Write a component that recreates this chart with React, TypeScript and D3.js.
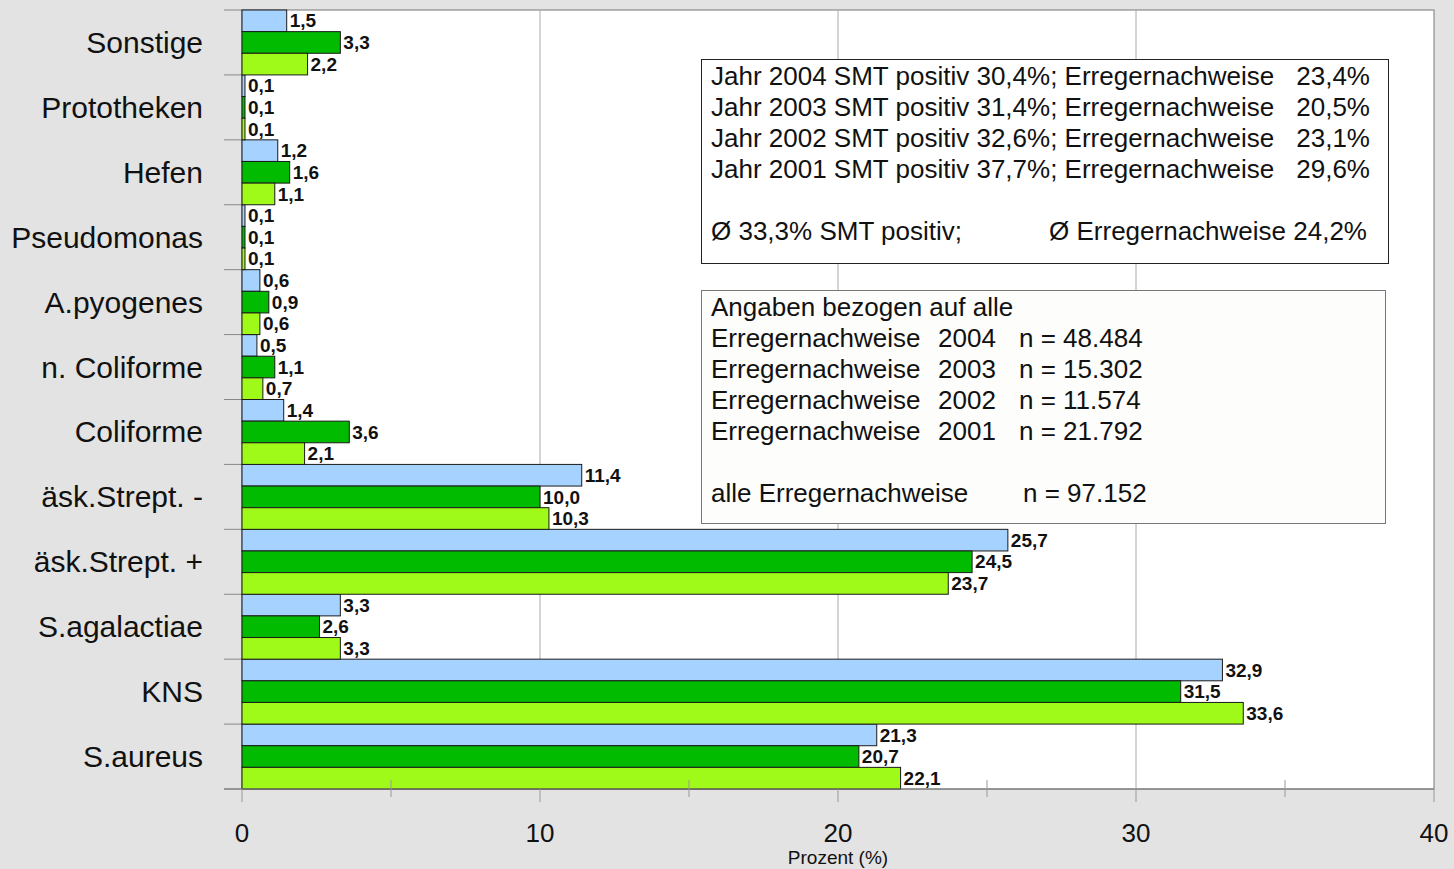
import React, { useEffect, useRef } from 'react';
import * as d3 from 'd3';

const WIDTH = 1454;
const HEIGHT = 869;

const MARGIN = { top: 10, right: 20, bottom: 80, left: 242 };

const categories = [
  'Sonstige', 'Prototheken', 'Hefen', 'Pseudomonas', 'A.pyogenes', 'n. Coliforme',
  'Coliforme', 'äsk.Strept. -', 'äsk.Strept. +', 'S.agalactiae', 'KNS', 'S.aureus',
];

// three bars per category, top to bottom
const seriesA = [1.5, 0.1, 1.2, 0.1, 0.6, 0.5, 1.4, 11.4, 25.7, 3.3, 32.9, 21.3];
const seriesB = [3.3, 0.1, 1.6, 0.1, 0.9, 1.1, 3.6, 10.0, 24.5, 2.6, 31.5, 20.7];
const seriesC = [2.2, 0.1, 1.1, 0.1, 0.6, 0.7, 2.1, 10.3, 23.7, 3.3, 33.6, 22.1];

const seriesColors = ['#a6d2ff', '#00bb00', '#a0fa19'];

const xTicks = [0, 10, 20, 30, 40];
const xMinorTicks = [5, 15, 25, 35];

const box1Lines = [
  ['Jahr 2004 SMT positiv 30,4%; Erregernachweise', '23,4%'],
  ['Jahr 2003 SMT positiv 31,4%; Erregernachweise', '20,5%'],
  ['Jahr 2002 SMT positiv 32,6%; Erregernachweise', '23,1%'],
  ['Jahr 2001 SMT positiv 37,7%; Erregernachweise', '29,6%'],
];
const box1Mean = ['Ø 33,3% SMT positiv;', 'Ø Erregernachweise 24,2%'];

const box2Title = 'Angaben bezogen auf alle';
const box2Years = ['2004', '2003', '2002', '2001'];
const box2Counts = ['n = 48.484', 'n = 15.302', 'n = 11.574', 'n = 21.792'];
const box2Total = ['alle Erregernachweise', 'n = 97.152'];

const FONT = '"Liberation Sans", Arial, sans-serif';
const BOX_FS = 26;

export default function App() {
  const ref = useRef<SVGSVGElement>(null);

  useEffect(() => {
    const svg = d3.select(ref.current);
    svg.selectAll('*').remove();

    const x = d3.scaleLinear()
      .domain([0, 40])
      .range([MARGIN.left, WIDTH - MARGIN.right]);

    const y = d3.scaleBand()
      .domain(categories)
      .range([MARGIN.top, HEIGHT - MARGIN.bottom])
      .padding(0);

    const inner = d3.scaleBand<number>()
      .domain([0, 1, 2])
      .range([0, y.bandwidth()])
      .padding(0);

    svg.append('rect')
      .attr('width', WIDTH).attr('height', HEIGHT)
      .attr('fill', '#e3e3e3');

    // plot area
    svg.append('rect')
      .attr('x', x(0)).attr('y', MARGIN.top)
      .attr('width', x(40) - x(0)).attr('height', HEIGHT - MARGIN.bottom - MARGIN.top)
      .attr('fill', '#fff')
      .attr('stroke', '#777').attr('stroke-width', 1);

    // grid
    svg.append('g').selectAll('line')
      .data([10, 20, 30])
      .enter().append('line')
      .attr('x1', d => x(d)).attr('x2', d => x(d))
      .attr('y1', MARGIN.top).attr('y2', HEIGHT - MARGIN.bottom)
      .attr('stroke', '#aaa').attr('stroke-width', 1);

    // category separator ticks
    const bounds = categories.map(c => y(c) as number).concat([HEIGHT - MARGIN.bottom]);
    svg.append('g').selectAll('line')
      .data(bounds)
      .enter().append('line')
      .attr('x1', x(0) - 18).attr('x2', x(0))
      .attr('y1', d => d).attr('y2', d => d)
      .attr('stroke', '#888').attr('stroke-width', 1);

    // bars
    const series = [seriesA, seriesB, seriesC];
    series.forEach((vals, si) => {
      const g = svg.append('g');
      g.selectAll('rect')
        .data(vals)
        .enter().append('rect')
        .attr('x', x(0))
        .attr('y', (d, i) => (y(categories[i]) as number) + (inner(si) as number))
        .attr('width', d => x(d) - x(0))
        .attr('height', inner.bandwidth())
        .attr('fill', seriesColors[si])
        .attr('stroke', '#1a1a1a').attr('stroke-width', 1);

      g.selectAll('text')
        .data(vals)
        .enter().append('text')
        .attr('x', d => x(d) + 3)
        .attr('y', (d, i) => (y(categories[i]) as number) + (inner(si) as number) + inner.bandwidth() / 2)
        .attr('dy', '0.35em')
        .attr('font-family', FONT)
        .attr('font-weight', 'bold')
        .attr('font-size', 19)
        .attr('fill', '#111')
        .text(d => d3.format('.1f')(d).replace('.', ','));
    });

    // category labels
    svg.append('g').selectAll('text')
      .data(categories)
      .enter().append('text')
      .attr('x', 203)
      .attr('y', d => (y(d) as number) + y.bandwidth() / 2)
      .attr('dy', '0.35em')
      .attr('text-anchor', 'end')
      .attr('font-family', FONT)
      .attr('font-size', 30)
      .attr('fill', '#111')
      .text(d => d);

    // x axis
    const axisY = HEIGHT - MARGIN.bottom;
    svg.append('line')
      .attr('x1', x(0) - 18).attr('x2', x(40))
      .attr('y1', axisY).attr('y2', axisY)
      .attr('stroke', '#777');
    svg.append('g').selectAll('line')
      .data(xTicks)
      .enter().append('line')
      .attr('x1', d => x(d)).attr('x2', d => x(d))
      .attr('y1', axisY).attr('y2', axisY + 13)
      .attr('stroke', '#999');
    svg.append('g').selectAll('line')
      .data(xMinorTicks)
      .enter().append('line')
      .attr('x1', d => x(d)).attr('x2', d => x(d))
      .attr('y1', axisY - 9).attr('y2', axisY + 8)
      .attr('stroke', '#999');
    svg.append('g').selectAll('text')
      .data(xTicks)
      .enter().append('text')
      .attr('x', d => x(d))
      .attr('y', 842)
      .attr('text-anchor', 'middle')
      .attr('font-family', FONT)
      .attr('font-size', 26)
      .attr('fill', '#111')
      .text(d => d);
    svg.append('text')
      .attr('x', x(20)).attr('y', 864)
      .attr('text-anchor', 'middle')
      .attr('font-family', FONT)
      .attr('font-size', 19)
      .attr('fill', '#111')
      .text('Prozent (%)');

    const boxText = (g: any, tx: number, ty: number, s: string, anchor = 'start') =>
      g.append('text')
        .attr('x', tx).attr('y', ty)
        .attr('text-anchor', anchor)
        .attr('font-family', FONT).attr('font-size', BOX_FS).attr('fill', '#111')
        .text(s);

    // info box 1
    const b1 = svg.append('g');
    b1.append('rect')
      .attr('x', 701.5).attr('y', 59.5).attr('width', 687).attr('height', 204)
      .attr('fill', '#fff').attr('stroke', '#222');
    box1Lines.forEach((l, i) => {
      boxText(b1, 711, 85 + i * 31, l[0]);
      boxText(b1, 1370, 85 + i * 31, l[1], 'end');
    });
    boxText(b1, 711, 240, box1Mean[0]);
    boxText(b1, 1367, 240, box1Mean[1], 'end');

    // info box 2
    const b2 = svg.append('g');
    b2.append('rect')
      .attr('x', 701.5).attr('y', 290.5).attr('width', 684).attr('height', 233)
      .attr('fill', '#fdfdfb').attr('stroke', '#777');
    boxText(b2, 711, 316, box2Title);
    box2Years.forEach((yr, i) => {
      const ty = 347 + i * 31;
      boxText(b2, 711, ty, 'Erregernachweise');
      boxText(b2, 938, ty, yr);
      boxText(b2, 1019, ty, box2Counts[i]);
    });
    boxText(b2, 711, 502, box2Total[0]);
    boxText(b2, 1023, 502, box2Total[1]);
  }, []);

  return (
    <svg ref={ref} width={WIDTH} height={HEIGHT}
      style={{ position: 'absolute', left: 0, top: 0, display: 'block' }} />
  );
}
